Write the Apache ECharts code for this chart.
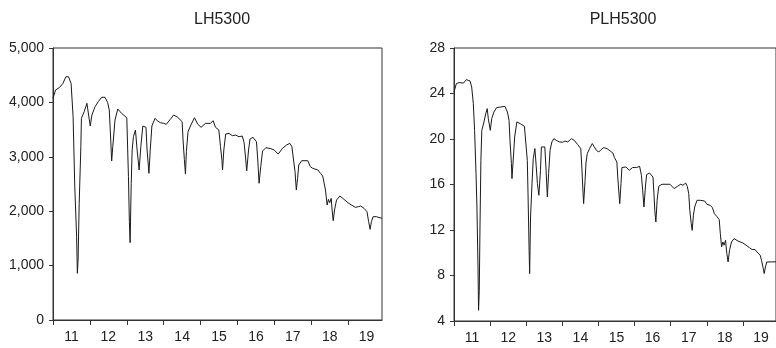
<!DOCTYPE html>
<html><head><meta charset="utf-8">
<script src="https://cdn.jsdelivr.net/npm/echarts@6/dist/echarts.min.js"></script>
<style>html,body{margin:0;padding:0;background:#fff}#c{width:776px;height:348px}</style>
</head><body><div id="c"></div><script>
const years = [2011, 2012, 2013, 2014, 2015, 2016, 2017, 2018, 2019];
const yearLabels = ['11', '12', '13', '14', '15', '16', '17', '18', '19'];
const titles = ['LH5300', 'PLH5300'];

const lhX = [2011.0,2011.07,2011.18,2011.27,2011.35,2011.42,2011.49,2011.545,2011.59,2011.64,2011.66,2011.68,2011.71,2011.755,2011.77,2011.845,2011.92,2011.965,2012.01,2012.055,2012.14,2012.225,2012.32,2012.41,2012.48,2012.525,2012.565,2012.59,2012.62,2012.68,2012.755,2012.86,2013.0,2013.045,2013.07,2013.09,2013.12,2013.145,2013.18,2013.235,2013.28,2013.335,2013.38,2013.435,2013.52,2013.55,2013.6,2013.635,2013.68,2013.765,2013.835,2013.91,2014.0,2014.07,2014.18,2014.27,2014.38,2014.5,2014.525,2014.56,2014.59,2014.615,2014.66,2014.725,2014.835,2014.925,2015.015,2015.13,2015.27,2015.34,2015.405,2015.495,2015.54,2015.58,2015.595,2015.63,2015.68,2015.77,2015.86,2015.95,2016.04,2016.13,2016.18,2016.225,2016.25,2016.3,2016.34,2016.42,2016.515,2016.55,2016.585,2016.63,2016.68,2016.77,2016.905,2016.995,2017.105,2017.22,2017.33,2017.42,2017.475,2017.52,2017.56,2017.595,2017.63,2017.66,2017.74,2017.905,2017.975,2018.04,2018.18,2018.25,2018.31,2018.36,2018.385,2018.43,2018.465,2018.5,2018.54,2018.565,2018.595,2018.63,2018.685,2018.775,2018.885,2018.995,2019.085,2019.195,2019.28,2019.34,2019.43,2019.51,2019.555,2019.595,2019.63,2019.675,2019.765,2019.81,2019.917];
const lhY = [4075,4228,4277,4350,4472,4472,4350,3737,2450,1531,858,1103,2145,3185,3707,3829,3983,3768,3566,3768,3921,4013,4094,4094,4001,3860,3308,2922,3185,3676,3878,3799,3718,2634,1807,1421,2513,3125,3369,3492,3125,2757,3185,3566,3542,3125,2696,3125,3566,3707,3658,3627,3615,3597,3689,3768,3726,3645,3308,2953,2683,3094,3461,3566,3718,3597,3542,3615,3615,3663,3542,3492,3185,2928,2757,3125,3419,3431,3388,3400,3369,3382,3259,2941,2739,3125,3327,3358,3277,2941,2513,2818,3106,3167,3150,3125,3051,3156,3217,3247,3185,2941,2726,2389,2604,2849,2928,2928,2818,2788,2757,2696,2647,2634,2389,2114,2218,2156,2237,2022,1825,2022,2206,2279,2218,2156,2114,2071,2083,2095,2053,1991,1807,1667,1807,1899,1899,1869,1869];

const plhX = [2011.0,2011.065,2011.14,2011.265,2011.34,2011.38,2011.445,2011.49,2011.535,2011.57,2011.61,2011.635,2011.665,2011.68,2011.7,2011.72,2011.745,2011.77,2011.83,2011.88,2011.92,2011.95,2012.005,2012.045,2012.105,2012.18,2012.29,2012.41,2012.48,2012.525,2012.55,2012.59,2012.605,2012.645,2012.68,2012.74,2012.835,2012.95,2013.005,2013.03,2013.05,2013.08,2013.095,2013.12,2013.16,2013.195,2013.24,2013.275,2013.31,2013.35,2013.395,2013.42,2013.515,2013.55,2013.585,2013.62,2013.66,2013.71,2013.765,2013.83,2013.92,2014.01,2014.075,2014.15,2014.255,2014.33,2014.42,2014.51,2014.54,2014.565,2014.59,2014.63,2014.655,2014.69,2014.755,2014.83,2014.875,2014.945,2015.01,2015.075,2015.145,2015.235,2015.325,2015.4,2015.445,2015.51,2015.535,2015.565,2015.59,2015.625,2015.65,2015.69,2015.76,2015.855,2015.945,2016.055,2016.14,2016.19,2016.225,2016.26,2016.3,2016.335,2016.415,2016.51,2016.535,2016.56,2016.59,2016.625,2016.67,2016.76,2016.87,2016.98,2017.095,2017.19,2017.28,2017.34,2017.415,2017.46,2017.5,2017.53,2017.57,2017.595,2017.63,2017.665,2017.73,2017.82,2017.94,2018.005,2018.095,2018.155,2018.21,2018.275,2018.345,2018.375,2018.41,2018.445,2018.48,2018.52,2018.555,2018.59,2018.63,2018.685,2018.755,2018.865,2019.0,2019.09,2019.18,2019.255,2019.335,2019.39,2019.48,2019.515,2019.555,2019.59,2019.625,2019.66,2019.715,2019.75,2019.81,2019.917];
const plhY = [24.13,24.87,24.96,24.92,25.22,25.31,25.1,24.57,23.11,20.76,16.96,14.02,8.75,4.94,6.7,12.26,18.13,20.76,21.5,22.23,22.67,21.79,20.76,21.79,22.37,22.76,22.81,22.87,22.37,21.64,19.89,17.84,16.52,18.42,20.18,21.5,21.35,21.12,21.12,18.13,15.2,10.22,8.17,13.14,16.08,18.28,19.16,17.69,16.08,15.05,17.25,19.3,19.3,17.25,14.9,16.96,19.0,19.74,20.03,19.89,19.74,19.72,19.82,19.74,20.03,19.89,19.53,19.16,17.54,15.78,14.32,16.37,17.89,18.72,19.16,19.6,19.36,19.0,18.86,19.07,19.24,19.16,18.95,18.77,18.36,17.98,16.66,15.34,14.32,16.08,17.49,17.6,17.54,17.25,17.49,17.49,17.6,16.81,15.49,14.02,15.78,16.87,17.01,16.66,15.34,13.73,12.7,14.61,15.84,16.02,16.02,16.02,15.64,15.84,16.02,15.93,16.13,15.84,15.2,13.73,12.56,11.97,13.29,14.02,14.61,14.61,14.55,14.26,14.17,13.97,13.44,13.2,12.91,11.68,10.51,10.95,10.66,11.1,9.93,9.19,10.22,10.95,11.24,11.03,10.86,10.66,10.45,10.28,10.28,10.07,9.78,9.34,8.75,8.17,8.75,9.19,9.34,9.19,9.2,9.2];

const xMin = 2011, xMax = 2019.917;
const FONT = '"Liberation Sans", Arial, sans-serif';
const txt = '#222';
const axisCol = '#333';

function zip(xs, ys) { return xs.map((x, i) => [x, ys[i]]); }

function xAxis(gi) {
  return {
    type: 'value', gridIndex: gi, min: xMin, max: xMax,
    axisLine: { show: true, onZero: false, lineStyle: { color: axisCol, width: 1 } },
    axisTick: { show: true, length: 5, customValues: years, lineStyle: { color: axisCol } },
    axisLabel: {
      customValues: years.map(y => y + 0.5),
      formatter: v => yearLabels[Math.floor(v) - years[0]] || '',
      color: txt, fontFamily: FONT, fontSize: 14, margin: 10
    },
    splitLine: { show: false }
  };
}
function yAxis(gi, min, max, interval, fmt) {
  return {
    type: 'value', gridIndex: gi, min, max, interval,
    axisLine: { show: true, lineStyle: { color: axisCol, width: 1 } },
    axisTick: { show: true, length: 4, lineStyle: { color: axisCol } },
    axisLabel: { color: txt, fontFamily: FONT, fontSize: 14, margin: 9, formatter: fmt },
    splitLine: { show: false }
  };
}

const chart = echarts.init(document.getElementById('c'), null, { renderer: 'canvas' });
chart.setOption({
  animation: false,
  backgroundColor: '#fff',
  title: [
    { text: titles[0], left: 217, top: 7, textAlign: 'center', textStyle: { fontFamily: FONT, fontSize: 16, fontWeight: 'normal', color: txt } },
    { text: titles[1], left: 618, top: 7, textAlign: 'center', textStyle: { fontFamily: FONT, fontSize: 16, fontWeight: 'normal', color: txt } }
  ],
  grid: [
    { left: 53, top: 48, width: 329, height: 272, show: true, borderColor: axisCol, borderWidth: 1, backgroundColor: '#fff' },
    { left: 454, top: 48, width: 328, height: 273, show: true, borderColor: axisCol, borderWidth: 1, backgroundColor: '#fff' }
  ],
  xAxis: [xAxis(0), xAxis(1)],
  yAxis: [
    yAxis(0, 0, 5000, 1000, v => v.toLocaleString('en-US')),
    yAxis(1, 4, 28, 4, v => String(v))
  ],
  series: [
    { type: 'line', xAxisIndex: 0, yAxisIndex: 0, data: zip(lhX, lhY), showSymbol: false, lineStyle: { color: '#1a1a1a', width: 1 }, clip: true },
    { type: 'line', xAxisIndex: 1, yAxisIndex: 1, data: zip(plhX, plhY), showSymbol: false, lineStyle: { color: '#1a1a1a', width: 1 }, clip: true }
  ]
});
</script></body></html>
